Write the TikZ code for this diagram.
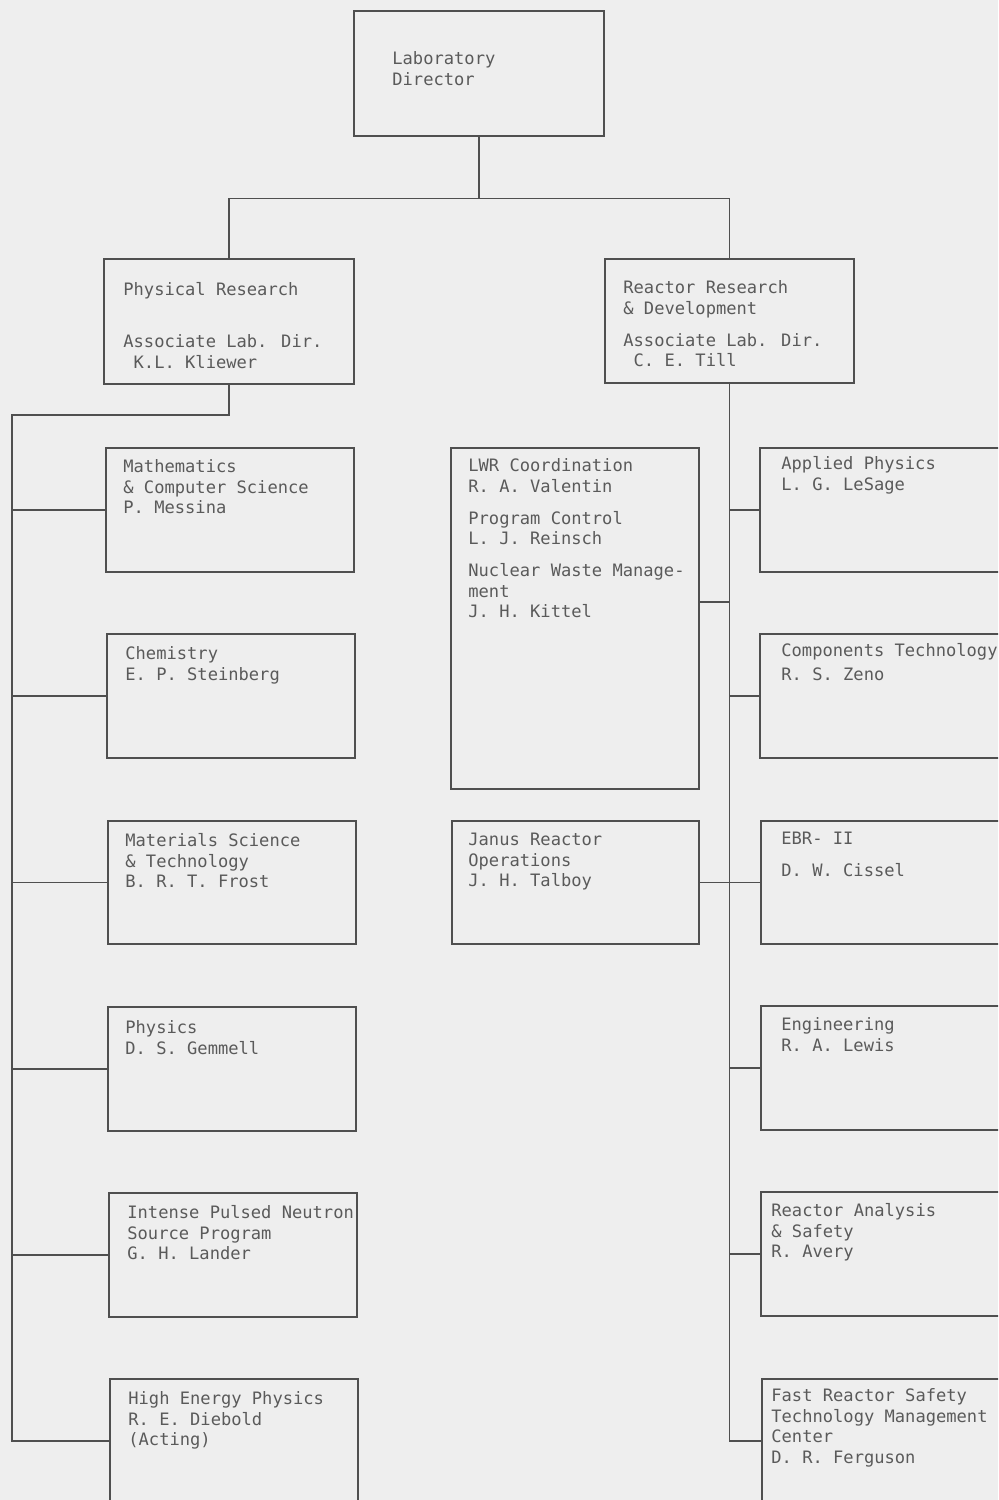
\documentclass[tikz,border=0pt]{standalone}
\usepackage{fontspec}
\newfontfamily\chartmono{DejaVu Sans Mono}
\definecolor{paper}{HTML}{EEEEEE}
\definecolor{ink}{HTML}{4F4F4F}
\definecolor{txt}{HTML}{5A5A5A}
\tikzset{
  unit/.style={draw=ink, line width=0.8pt, rectangle, inner sep=0pt, anchor=north west},
  std/.style={unit, minimum width=124pt, minimum height=62pt},
  wide/.style={unit, minimum width=131pt, minimum height=62pt},
  lbl/.style={anchor=north west, inner sep=0pt, align=left, text=txt,
              font=\chartmono\fontsize{8.55}{10.25}\selectfont},
  link/.style={draw=ink, line width=0.8pt},
}
\begin{document}
\begin{tikzpicture}[x=0.5pt,y=-0.5pt]
\useasboundingbox (0,0) rectangle (998,1500);
\fill[paper] (0,0) rectangle (998,1500);
\clip (0,0) rectangle (998,1500);

% top levels
\node[unit, minimum width=125pt, minimum height=62.5pt] (dir) at (353,10) {};
\node[unit, minimum width=125pt, minimum height=62.5pt] (pr) at (103,258) {};
\node[unit, minimum width=124.5pt, minimum height=62pt] (rrd) at (604,258) {};

% physical research divisions
\node[std] (math) at (105,447) {};
\node[std] (chem) at (106,633) {};
\node[std, minimum height=61.5pt] (mat) at (107,820) {};
\node[std] (phys) at (107,1006) {};
\node[std] (ipns) at (108,1192) {};
\node[std] (hep) at (109,1378) {};

% reactor research staff offices
\node[unit, minimum width=124pt, minimum height=170.5pt] (lwr) at (450,447) {};
\node[unit, minimum width=123.5pt, minimum height=61.5pt] (janus) at (451,820) {};

% reactor research divisions
\node[wide] (ap) at (759,447) {};
\node[wide] (comp) at (759,633) {};
\node[wide, minimum height=61.5pt] (ebr) at (760,820) {};
\node[wide] (eng) at (760,1005) {};
\node[wide] (ras) at (760,1191) {};
\node[wide] (frs) at (761,1378) {};

% connectors
\path (dir.south) ++(0,62) coordinate (split);
\coordinate (lbus) at (12,415);
\coordinate (lwrc) at ([yshift=8.25pt]lwr.east);
\draw[link] (dir.south) -- (split);
\draw[link] (pr.north) |- (split) -| (rrd.north);
\draw[link] (pr.south) |- (lbus) -- (lbus |- hep.west) -- (hep.west);
\foreach \n in {math,chem,mat,phys,ipns}
  \draw[link] (lbus |- \n.west) -- (\n.west);
\draw[link] (rrd.south) |- (frs.west);
\foreach \n in {ap,comp,ebr,eng,ras}
  \draw[link] (rrd.south |- \n.west) -- (\n.west);
\draw[link] (lwrc) -- (lwrc -| rrd.south);
\draw[link] (janus.east) -- (ebr.west);

% labels
\node[lbl] (t-dir) at (392,50) {\strut Laboratory\\Director};
\node[lbl] (t-pr) at (123,281) {\strut Physical Research\\[15.75pt]Associate Lab. Dir.\\\ K.L. Kliewer};
\node[lbl] (t-rrd) at (623,279) {\strut Reactor Research\\\& Development\\[5.75pt]Associate Lab. Dir.\\\ C. E. Till};
\node[lbl] (t-math) at (123,458) {\strut Mathematics\\\& Computer Science\\P. Messina};
\node[lbl] (t-chem) at (125,645) {\strut Chemistry\\E. P. Steinberg};
\node[lbl] (t-mat) at (125,832) {\strut Materials Science\\\& Technology\\B. R. T. Frost};
\node[lbl] (t-phys) at (125,1019) {\strut Physics\\D. S. Gemmell};
\node[lbl] (t-ipns) at (127,1204) {\strut Intense Pulsed Neutron\\Source Program\\G. H. Lander};
\node[lbl] (t-hep) at (128,1390) {\strut High Energy Physics\\R. E. Diebold\\(Acting)};
\node[lbl] (t-lwr) at (468,457) {\strut LWR Coordination\\R. A. Valentin\\[5.75pt]Program Control\\L. J. Reinsch\\[5.75pt]Nuclear Waste Manage-\\ment\\J. H. Kittel};
\node[lbl] (t-janus) at (468,831) {\strut Janus Reactor\\Operations\\J. H. Talboy};
\node[lbl] (t-ap) at (781,455) {\strut Applied Physics\\L. G. LeSage};
\node[lbl] (t-comp) at (781,642) {\strut Components Technology\\[1.75pt]R. S. Zeno};
\node[lbl] (t-ebr) at (781,830) {\strut EBR- II\\[5.75pt]D. W. Cissel};
\node[lbl] (t-eng) at (781,1016) {\strut Engineering\\R. A. Lewis};
\node[lbl] (t-ras) at (771,1202) {\strut Reactor Analysis\\\& Safety\\R. Avery};
\node[lbl] (t-frs) at (771,1387) {\strut Fast Reactor Safety\\Technology Management\\Center\\D. R. Ferguson};
\end{tikzpicture}
\end{document}
